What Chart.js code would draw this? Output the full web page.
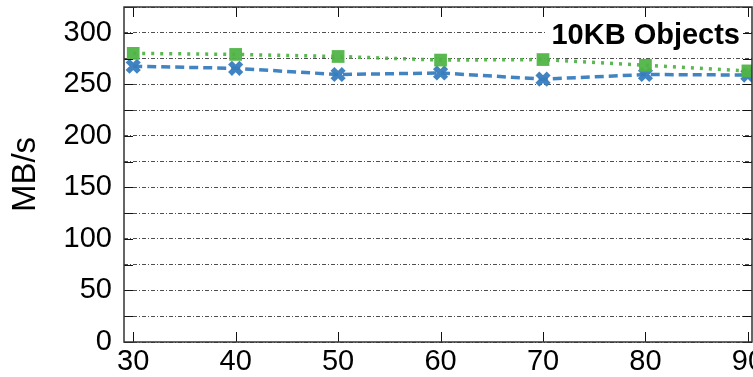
<!DOCTYPE html>
<html>
<head>
<meta charset="utf-8">
<script src="https://cdn.jsdelivr.net/npm/chart.js@4/dist/chart.umd.min.js"></script>
<style>
  html, body { margin: 0; padding: 0; overflow: hidden; background: #fff; }
  #wrap { width: 800px; height: 377px; position: relative; }
</style>
</head>
<body>
<div id="wrap"><canvas id="tput"></canvas></div>
<script>
var ctx = document.getElementById('tput')

// values
const threads = [30, 40, 50, 60, 70, 80, 90]
const greenMBs = [280, 279, 277, 273.5, 274, 268.5, 263]
const blueMBs = [267.5, 265.5, 259.5, 261, 255, 259.5, 259]
const xTicks = [30, 40, 50, 60, 70, 80, 90]
const yLabels = [0, 50, 100, 150, 200, 250, 300]
const chartTitle = '10KB Objects'

const FONT = "'Liberation Sans', Arial, sans-serif"

function pts(ys) {
  return threads.map((x, i) => ({ x: x, y: ys[i] }))
}

// inward tick marks, plot frame and the boxed title
const frame = {
  id: 'frame',
  afterDraw(chart) {
    const c = chart.ctx
    const a = chart.chartArea
    const xs = chart.scales.x
    const ys = chart.scales.y
    c.save()
    c.strokeStyle = '#111'
    c.lineWidth = 1
    c.setLineDash([])
    c.beginPath()
    xTicks.forEach(v => {
      const px = Math.round(xs.getPixelForValue(v)) + 0.5
      c.moveTo(px, a.bottom); c.lineTo(px, a.bottom - 10)
      c.moveTo(px, a.top); c.lineTo(px, a.top + 10)
    })
    ys.ticks.forEach(t => {
      const py = Math.round(ys.getPixelForValue(t.value)) + 0.5
      c.moveTo(a.left, py); c.lineTo(a.left + 9, py)
      c.moveTo(a.right, py); c.lineTo(a.right - 9, py)
    })
    c.stroke()
    c.strokeStyle = '#333'
    c.lineWidth = 1.5
    c.strokeRect(a.left, a.top, a.right - a.left, a.bottom - a.top)

    c.font = 'bold 29px ' + FONT
    const w = c.measureText(chartTitle).width
    const tx = a.right - 12
    c.fillStyle = '#fff'
    c.fillRect(tx - w - 5, a.top + 13, w + 8, 30)
    c.fillStyle = '#000'
    c.textAlign = 'right'
    c.textBaseline = 'alphabetic'
    c.fillText(chartTitle, tx, a.top + 37)
    c.restore()
  }
}

var myChart = new Chart(ctx, {
  type: 'line',
  data: {
    datasets: [{
      label: 'green',
      data: pts(greenMBs),
      borderColor: 'rgba(80, 180, 70, 0.95)',
      backgroundColor: 'rgba(80, 180, 70, 0.95)',
      borderWidth: 3.5,
      borderDash: [3, 6],
      pointStyle: 'rect',
      pointRadius: 9,
      pointBorderWidth: 0,
      fill: false
    }, {
      label: 'blue',
      data: pts(blueMBs),
      borderColor: 'rgba(55, 125, 190, 0.95)',
      backgroundColor: 'rgba(55, 125, 190, 0.95)',
      borderWidth: 3.5,
      borderDash: [9, 5],
      pointStyle: 'crossRot',
      pointRadius: 8,
      pointBorderWidth: 5.5,
      fill: false
    }]
  },
  options: {
    responsive: true,
    maintainAspectRatio: false,
    animation: false,
    layout: { autoPadding: false, padding: { left: 0, right: 48, top: 7, bottom: 0 } },
    plugins: {
      legend: { display: false },
      tooltip: { enabled: false }
    },
    scales: {
      x: {
        type: 'linear',
        min: 29.1,
        max: 90.4,
        afterBuildTicks: s => { s.ticks = xTicks.map(v => ({ value: v })) },
        afterFit: s => { s.height = 35; s.paddingLeft = 0; s.paddingRight = 0 },
        grid: { display: false, drawTicks: false },
        border: { display: false },
        ticks: {
          padding: 3,
          color: '#000',
          font: { family: FONT, size: 29 },
          maxRotation: 0
        }
      },
      y: {
        min: 0,
        max: 325,
        afterFit: s => { s.width = 124; s.paddingTop = 0; s.paddingBottom = 0 },
        grid: {
          drawTicks: false,
          color: '#222',
          lineWidth: 0.8
        },
        border: { display: false, dash: [4, 2, 1, 2] },
        ticks: {
          stepSize: 25,
          autoSkip: false,
          padding: 12,
          color: '#000',
          font: { family: FONT, size: 29 },
          callback: v => yLabels.includes(v) ? String(v) : ''
        },
        title: {
          display: true,
          text: 'MB/s',
          color: '#000',
          font: { family: FONT, size: 33 },
          padding: { top: 6, bottom: 0 }
        }
      }
    }
  },
  plugins: [frame]
})
</script>
</body>
</html>
